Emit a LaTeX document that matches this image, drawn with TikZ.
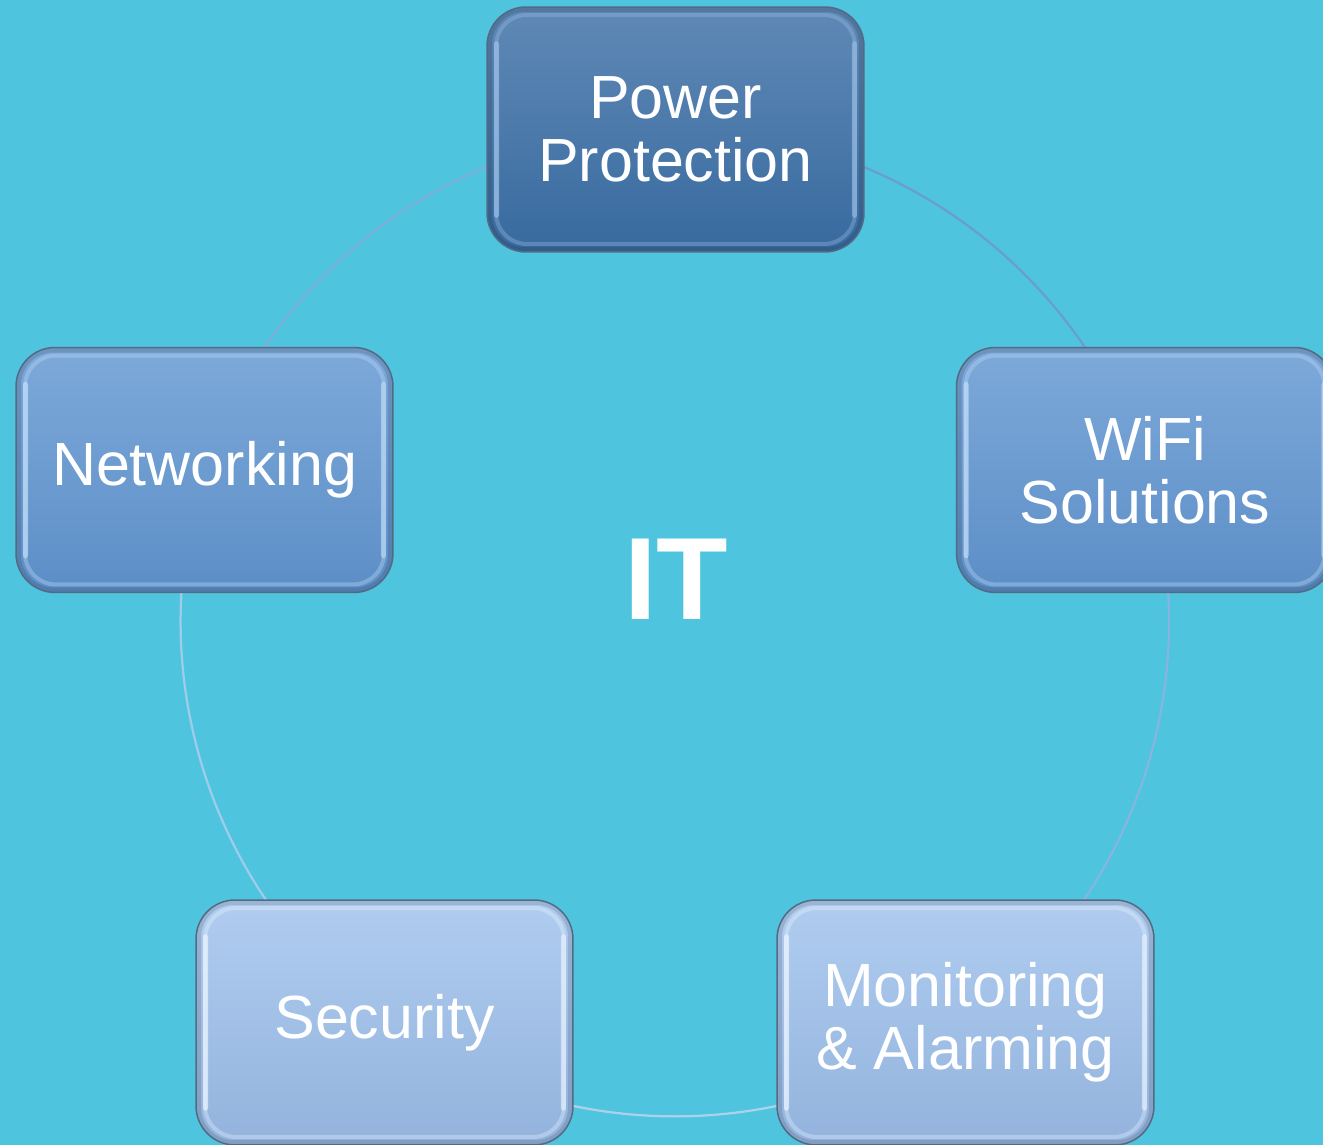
\documentclass[tikz,border=0pt]{standalone}
\usepackage{fontspec}
\setmainfont{Liberation Sans}
\usetikzlibrary{shadings}
\pgfdeclarelayer{background}
\pgfsetlayers{background,main}
\definecolor{bgc}{HTML}{4EC4DE}
\definecolor{dkT}{HTML}{5F89B6}\definecolor{dkB}{HTML}{386A9F}\definecolor{dkE}{HTML}{9CC0E6}
\definecolor{mdT}{HTML}{7DA9DA}\definecolor{mdB}{HTML}{5C8EC6}\definecolor{mdE}{HTML}{C2DDF8}
\definecolor{ltT}{HTML}{B0CDF0}\definecolor{ltB}{HTML}{93B3DD}\definecolor{ltE}{HTML}{EAF4FF}
\definecolor{boxline}{HTML}{526A84}
\tikzset{
  x=0.02cm, y=0.02cm,
  itembox/.style n args={3}{
    draw=boxline, line width=0.03cm, rounded corners=0.78cm,
    top color=#1, bottom color=#2,
    minimum width=7.54cm, minimum height=4.9cm, inner sep=0pt, outer sep=0pt,
    text=white, align=center,
    font=\fontsize{34.7}{36}\selectfont,
    path picture={
      \draw[#3, opacity=0.35, line width=0.08cm, rounded corners=0.62cm]
        ([shift={(9,8)}]path picture bounding box.south west) rectangle
        ([shift={(-9,-8)}]path picture bounding box.north east);
      \fill[#3, opacity=0.7, rounded corners=0.06cm]
        ([shift={(7,34)}]path picture bounding box.south west) rectangle
        ([shift={(12,-34)}]path picture bounding box.north west);
      \fill[#3, opacity=0.6, rounded corners=0.06cm]
        ([shift={(-12,34)}]path picture bounding box.south east) rectangle
        ([shift={(-7,-34)}]path picture bounding box.north east);
      \draw[black, opacity=0.12, line width=0.12cm, rounded corners=0.7cm]
        ([shift={(2,2)}]path picture bounding box.south west) rectangle
        ([shift={(-2,-2)}]path picture bounding box.north east);
    }
  },
  ring/.style={line width=0.045cm, bend left=36, looseness=0.94},
}
\begin{document}
\begin{tikzpicture}
\useasboundingbox (0,0) rectangle (1323,1145);
\begin{pgfonlayer}{background}
\fill[bgc] (0,0) rectangle (1323,1145);
\end{pgfonlayer}
\node[itembox={dkT}{dkB}{dkE}] (P) at (675.5,1015.5) {Power\\Protection};
\node[itembox={mdT}{mdB}{mdE}] (W) at (1145,675) {WiFi\\Solutions};
\node[itembox={ltT}{ltB}{ltE}] (M) at (965.5,122.5) {Monitoring\\\&~Alarming};
\node[itembox={ltT}{ltB}{ltE}] (S) at (384.5,122.5) {Security};
\node[itembox={mdT}{mdB}{mdE}] (N) at (204.5,675) {Networking};
\node[text=white, font=\fontsize{66.6}{70}\selectfont\bfseries] (IT) at (676,566) {IT};
\begin{pgfonlayer}{background}
\draw[ring, color={rgb,255:red,106;green,158;blue,208}] (P.center) to (W.center);
\draw[ring, color={rgb,255:red,133;green,181;blue,224}] (W.center) to (M.center);
\draw[ring, color={rgb,255:red,170;green,210;blue,236}] (M.center) to (S.center);
\draw[ring, color={rgb,255:red,160;green,204;blue,236}] (S.center) to (N.center);
\draw[ring, color={rgb,255:red,124;green,176;blue,218}] (N.center) to (P.center);
\end{pgfonlayer}
\end{tikzpicture}
\end{document}
